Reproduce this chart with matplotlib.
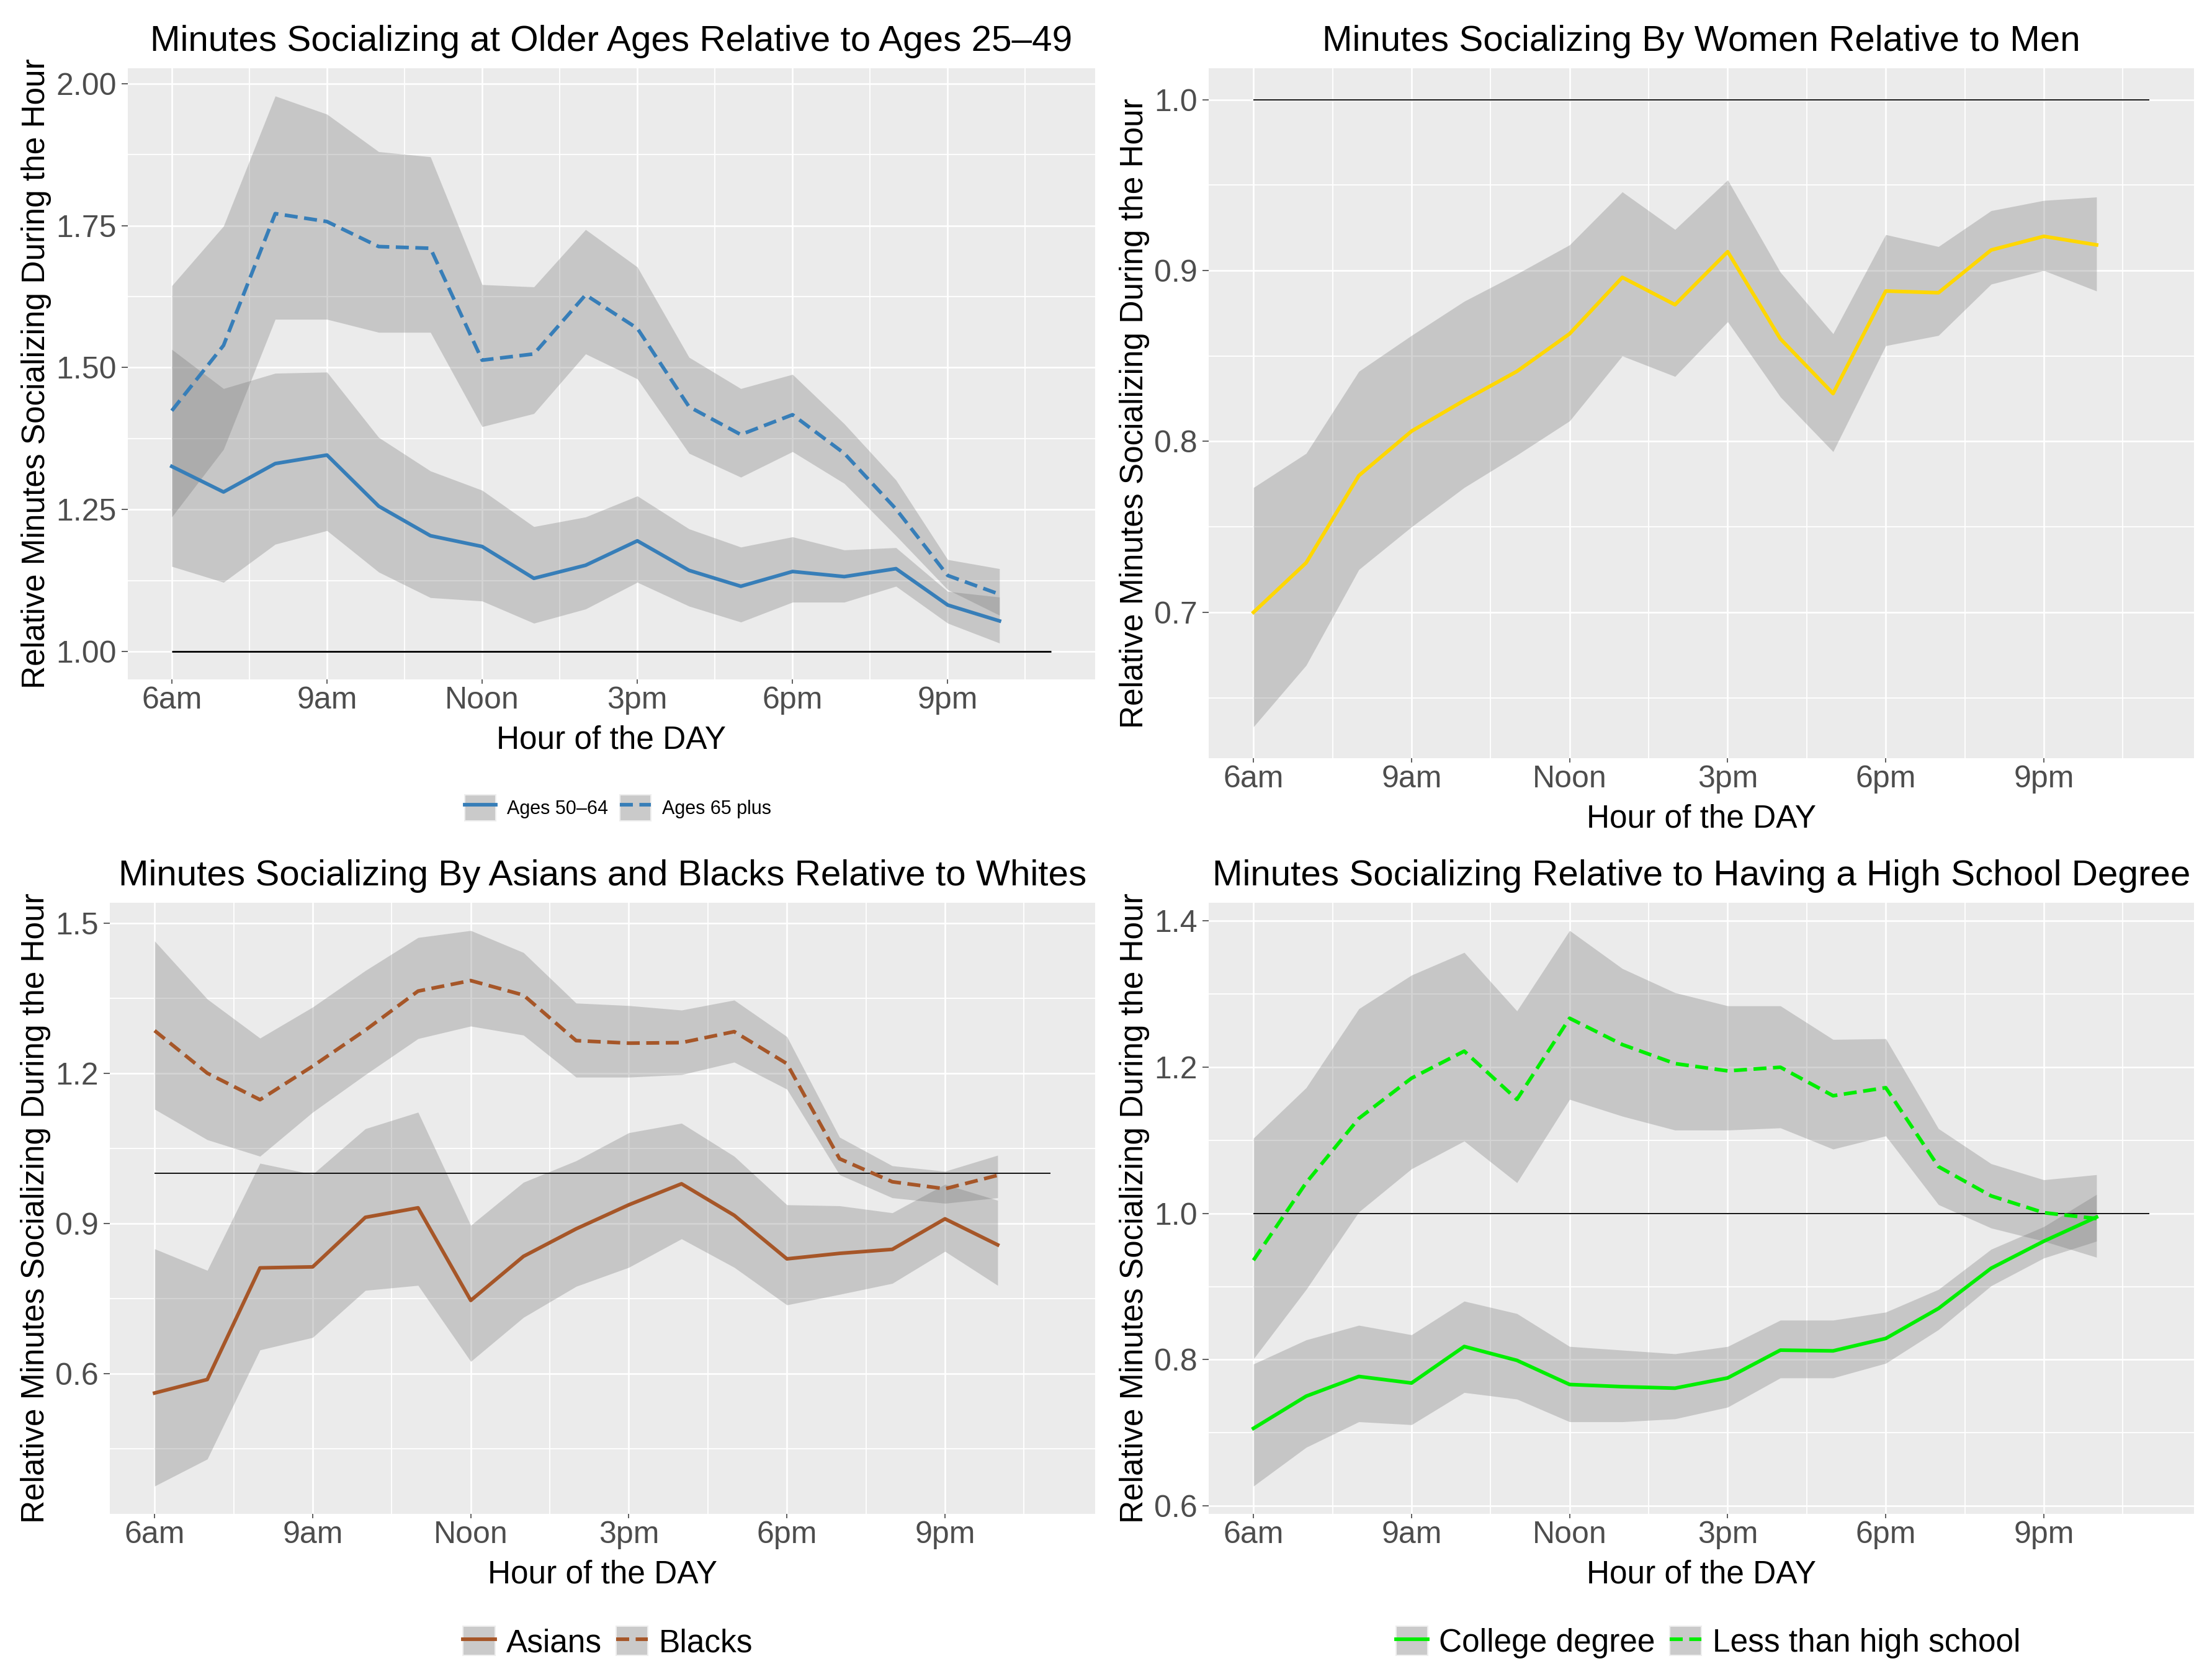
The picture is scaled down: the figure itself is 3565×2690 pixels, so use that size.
import numpy as np
import matplotlib.pyplot as plt
from matplotlib.patches import Patch
from matplotlib.lines import Line2D

plt.rcParams['font.family'] = ['Liberation Sans', 'DejaVu Sans']

# hours of the day (6am .. 10pm)
hours = list(range(6, 23))
tick_hours = [6, 9, 12, 15, 18, 21]
tick_labels = ['6am', '9am', 'Noon', '3pm', '6pm', '9pm']

# older ages relative to 25-49
age5064 = [1.326, 1.281, 1.331, 1.346, 1.256, 1.204, 1.185, 1.129, 1.152, 1.195, 1.143, 1.115, 1.141, 1.132, 1.146, 1.082, 1.054]
age5064_lo = [1.150, 1.122, 1.189, 1.213, 1.140, 1.095, 1.089, 1.050, 1.075, 1.122, 1.080, 1.052, 1.087, 1.087, 1.115, 1.050, 1.015]
age5064_hi = [1.532, 1.463, 1.490, 1.492, 1.377, 1.318, 1.284, 1.220, 1.237, 1.274, 1.216, 1.184, 1.202, 1.179, 1.183, 1.106, 1.096]
age65 = [1.424, 1.539, 1.771, 1.757, 1.713, 1.710, 1.513, 1.524, 1.628, 1.569, 1.431, 1.382, 1.417, 1.349, 1.251, 1.134, 1.101]
age65_lo = [1.237, 1.356, 1.585, 1.585, 1.562, 1.562, 1.396, 1.419, 1.524, 1.480, 1.349, 1.307, 1.352, 1.296, 1.204, 1.109, 1.064]
age65_hi = [1.644, 1.749, 1.978, 1.946, 1.880, 1.871, 1.646, 1.642, 1.743, 1.677, 1.518, 1.463, 1.488, 1.401, 1.302, 1.162, 1.146]

# women relative to men
women = [0.700, 0.729, 0.780, 0.806, 0.824, 0.841, 0.863, 0.896, 0.880, 0.911, 0.860, 0.828, 0.888, 0.887, 0.912, 0.920, 0.915]
women_lo = [0.633, 0.669, 0.725, 0.750, 0.773, 0.792, 0.812, 0.850, 0.838, 0.870, 0.826, 0.794, 0.856, 0.862, 0.892, 0.900, 0.888]
women_hi = [0.773, 0.793, 0.841, 0.862, 0.882, 0.898, 0.915, 0.946, 0.924, 0.953, 0.899, 0.863, 0.921, 0.914, 0.935, 0.941, 0.943]

# asians and blacks relative to whites
asians = [0.561, 0.588, 0.811, 0.813, 0.912, 0.931, 0.746, 0.834, 0.889, 0.937, 0.979, 0.916, 0.829, 0.840, 0.848, 0.909, 0.857]
asians_lo = [0.375, 0.429, 0.647, 0.672, 0.766, 0.776, 0.624, 0.712, 0.774, 0.812, 0.869, 0.812, 0.737, 0.758, 0.780, 0.844, 0.776]
asians_hi = [0.849, 0.806, 1.020, 0.998, 1.089, 1.122, 0.896, 0.982, 1.025, 1.081, 1.100, 1.034, 0.937, 0.935, 0.921, 0.978, 0.946]
blacks = [1.285, 1.200, 1.147, 1.214, 1.286, 1.364, 1.385, 1.356, 1.265, 1.260, 1.261, 1.283, 1.219, 1.029, 0.983, 0.969, 0.996]
blacks_lo = [1.128, 1.067, 1.034, 1.122, 1.197, 1.269, 1.294, 1.276, 1.192, 1.192, 1.197, 1.222, 1.168, 0.997, 0.951, 0.940, 0.951]
blacks_hi = [1.464, 1.348, 1.270, 1.332, 1.405, 1.471, 1.485, 1.441, 1.340, 1.335, 1.326, 1.346, 1.273, 1.072, 1.015, 1.004, 1.036]

# education relative to high school degree
college = [0.706, 0.750, 0.777, 0.768, 0.818, 0.799, 0.766, 0.763, 0.761, 0.775, 0.813, 0.812, 0.829, 0.870, 0.925, 0.962, 0.995]
college_lo = [0.627, 0.680, 0.715, 0.711, 0.755, 0.746, 0.715, 0.715, 0.719, 0.735, 0.775, 0.775, 0.795, 0.841, 0.901, 0.939, 0.962]
college_hi = [0.794, 0.827, 0.847, 0.834, 0.880, 0.863, 0.818, 0.813, 0.808, 0.818, 0.854, 0.854, 0.865, 0.896, 0.951, 0.982, 1.026]
lths = [0.936, 1.042, 1.130, 1.185, 1.222, 1.156, 1.267, 1.231, 1.205, 1.195, 1.200, 1.161, 1.172, 1.064, 1.024, 1.001, 0.993]
lths_lo = [0.801, 0.896, 1.002, 1.061, 1.099, 1.042, 1.156, 1.133, 1.114, 1.114, 1.117, 1.088, 1.106, 1.012, 0.980, 0.962, 0.940]
lths_hi = [1.103, 1.172, 1.280, 1.326, 1.357, 1.277, 1.387, 1.335, 1.302, 1.284, 1.284, 1.238, 1.239, 1.116, 1.068, 1.046, 1.053]

BLUE = '#377EB8'
BROWN = '#A65628'
GOLD = '#FFD700'
GREEN = '#00EE00'
DASH = (0, (3.6, 1.8))
LW = 4.2

W, H = 3565, 2690
fig = plt.figure(figsize=(W / 100, H / 100), dpi=100)


def rect(x0, y0, x1, y1):
    return [x0 / W, 1 - y1 / H, (x1 - x0) / W, (y1 - y0) / H]


def panel(r, title, series, yticks, yfmt, hline_lw=1.3):
    ax = fig.add_axes(rect(*r))
    ax.set_facecolor('#EBEBEB')
    for s in ax.spines.values():
        s.set_visible(False)
    for mean, lo, hi, col, ls in series:
        ax.fill_between(hours, lo, hi, color='#737373', alpha=0.3, linewidth=0, zorder=2)
    ax.hlines(1, 6, 23, color='black', lw=hline_lw, zorder=2.5)
    for mean, lo, hi, col, ls in series:
        ax.plot(hours, mean, color=col, lw=LW, ls=ls, zorder=3)

    lo_all = min(min(min(s[1]) for s in series), 1.0)
    hi_all = max(max(max(s[2]) for s in series), 1.0)
    pad = 0.05 * (hi_all - lo_all)
    ax.set_xlim(6 - 0.05 * 17, 23 + 0.05 * 17)

    ax.set_xticks(tick_hours)
    ax.set_xticklabels(tick_labels)
    ax.set_xticks([7.5, 10.5, 13.5, 16.5, 19.5, 22.5], minor=True)
    ax.set_yticks(yticks)
    ax.set_yticklabels([yfmt % v for v in yticks])
    step = yticks[1] - yticks[0]
    minors = [v + step / 2 for v in [yticks[0] - step] + list(yticks)]
    ax.set_yticks(minors, minor=True)
    ax.set_ylim(lo_all - pad, hi_all + pad)

    ax.grid(which='major', color='white', lw=1.9)
    ax.grid(which='minor', color='white', lw=1.3)
    ax.set_axisbelow(True)
    ax.tick_params(which='minor', length=0)
    ax.tick_params(axis='x', which='major', length=5, width=1.1, color='#333333',
                   labelsize=36, labelcolor='#4D4D4D', pad=3)
    ax.tick_params(axis='y', which='major', length=7, width=1.1, color='#333333',
                   labelsize=36, labelcolor='#4D4D4D', pad=6)
    ax.set_title(title, fontsize=42, pad=20)
    ax.set_xlabel('Hour of the DAY', fontsize=37, labelpad=12)
    ax.set_ylabel('Relative Minutes Socializing During the Hour', fontsize=37, labelpad=5)
    return ax


def keys(items):
    hs = []
    for col, ls in items:
        p = Patch(facecolor='#CACACA', edgecolor='#EEEEEE', lw=1.5)
        l = Line2D([], [], color=col, lw=LW, ls=ls)
        hs.append((p, l))
    return hs


panel((206, 110, 1765, 1095), 'Minutes Socializing at Older Ages Relative to Ages 25\u201349',
      [(age5064, age5064_lo, age5064_hi, BLUE, '-'),
       (age65, age65_lo, age65_hi, BLUE, DASH)],
      [1.00, 1.25, 1.50, 1.75, 2.00], '%.2f', hline_lw=2.0)

panel((1948, 110, 3536, 1222), 'Minutes Socializing By Women Relative to Men',
      [(women, women_lo, women_hi, GOLD, '-')],
      [0.7, 0.8, 0.9, 1.0], '%.1f')

panel((177, 1455, 1765, 2440), 'Minutes Socializing By Asians and Blacks Relative to Whites',
      [(asians, asians_lo, asians_hi, BROWN, '-'),
       (blacks, blacks_lo, blacks_hi, BROWN, DASH)],
      [0.6, 0.9, 1.2, 1.5], '%.1f')

panel((1948, 1455, 3536, 2440), 'Minutes Socializing Relative to Having a High School Degree',
      [(college, college_lo, college_hi, GREEN, '-'),
       (lths, lths_lo, lths_hi, GREEN, DASH)],
      [0.6, 0.8, 1.0, 1.2, 1.4], '%.1f')

fig.legend(keys([(BLUE, '-'), (BLUE, DASH)]), ['Ages 50\u201364', 'Ages 65 plus'],
           loc='center', bbox_to_anchor=(996 / W, 1 - 1302 / H), ncol=2, frameon=False,
           fontsize=22, handlelength=1.65, handleheight=1.7, handletextpad=0.6,
           columnspacing=0.6, borderpad=0)
fig.legend(keys([(BROWN, '-'), (BROWN, DASH)]), ['Asians', 'Blacks'],
           loc='center', bbox_to_anchor=(980 / W, 1 - 2647 / H), ncol=2, frameon=False,
           fontsize=37, handlelength=1.0, handleheight=1.05, handletextpad=0.35,
           columnspacing=0.45, borderpad=0)
fig.legend(keys([(GREEN, '-'), (GREEN, DASH)]), ['College degree', 'Less than high school'],
           loc='center', bbox_to_anchor=(2753 / W, 1 - 2647 / H), ncol=2, frameon=False,
           fontsize=37, handlelength=1.0, handleheight=1.05, handletextpad=0.35,
           columnspacing=0.45, borderpad=0)

fig.savefig('out.png', dpi=100)
plt.close(fig)
